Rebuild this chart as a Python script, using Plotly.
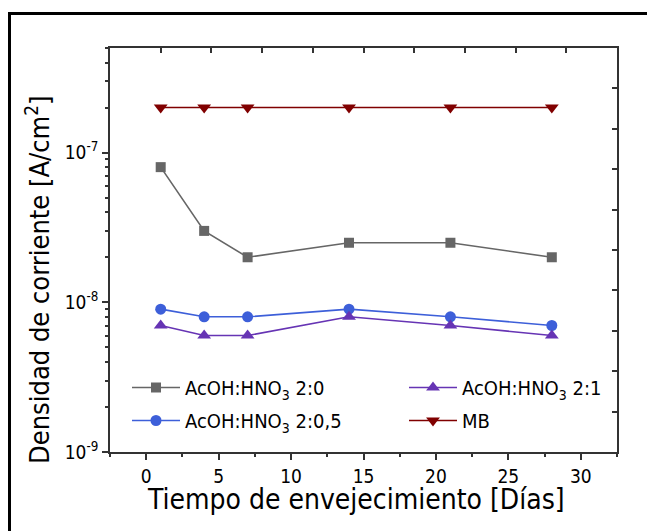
import plotly.graph_objects as go

# Aging time (days) and corrosion current density (A/cm^2)
dias = [1, 4, 7, 14, 21, 28]
acoh_2_0 = [8e-8, 3e-8, 2e-8, 2.5e-8, 2.5e-8, 2e-8]
acoh_2_05 = [9e-9, 8e-9, 8e-9, 9e-9, 8e-9, 7e-9]
acoh_2_1 = [7e-9, 6e-9, 6e-9, 8e-9, 7e-9, 6e-9]
mb = [2e-7, 2e-7, 2e-7, 2e-7, 2e-7, 2e-7]

names = ["AcOH:HNO<sub>3</sub> 2:0", "AcOH:HNO<sub>3</sub> 2:0,5",
         "AcOH:HNO<sub>3</sub> 2:1", "MB"]
y_tickvals = [1e-9, 1e-8, 1e-7]
y_ticktext = ["10<sup>-9</sup>", "10<sup>-8</sup>", "10<sup>-7</sup>"]

FONT = "DejaVu Sans Condensed, DejaVu Sans, sans-serif"
AX = "#333333"

W, H = 647, 531
ML, MR, MT, MB_ = 110, 30, 48, 79
PW, PH = W - ML - MR, H - MT - MB_


def px_x(p):
    return (p - ML) / PW


def px_y(p):
    return (H - MB_ - p) / PH


fig = go.Figure()

series = [
    (acoh_2_0, names[0], "#666666", "square", 10, "legend", "g1"),
    (acoh_2_05, names[1], "#3D5FD9", "circle", 11, "legend", "g2"),
    (acoh_2_1, names[2], "#6634B4", "triangle-up", 12, "legend2", "g3"),
    (mb, names[3], "#800000", "triangle-down", 12, "legend2", "g4"),
]
for ys, name, col, sym, sz, leg, grp in series:
    fig.add_trace(go.Scatter(
        x=dias, y=ys, name=name, mode="lines+markers",
        line=dict(color=col, width=1.6),
        marker=dict(symbol=sym, size=sz, color=col),
        legend=leg, legendgroup=grp,
    ))

legend_common = dict(
    orientation="v", yanchor="top", xanchor="left",
    font=dict(size=20, family=FONT, color="black"),
    bgcolor="rgba(0,0,0,0)", itemwidth=48, tracegroupgap=4,
)

fig.update_layout(
    width=W, height=H,
    margin=dict(l=ML, r=MR, t=MT, b=MB_),
    paper_bgcolor="white", plot_bgcolor="white",
    font=dict(family=FONT, size=18, color="black"),
    showlegend=True,
    legend=dict(x=px_x(127), y=px_y(368), **legend_common),
    legend2=dict(x=px_x(404), y=px_y(368), **legend_common),
    xaxis=dict(
        range=[-2.5, 32.5], dtick=5, tick0=0,
        showline=True, linecolor=AX, linewidth=1.5,
        ticks="outside", ticklen=6, tickwidth=1.5, tickcolor=AX,
        minor=dict(ticks="outside", ticklen=3, tickwidth=1.5, tickcolor=AX,
                   dtick=2.5, tick0=0, showgrid=False),
        showgrid=False, zeroline=False,
        tickfont=dict(size=19, family=FONT),
    ),
    yaxis=dict(
        type="log", range=[-9, -6.301],
        tickmode="array", tickvals=y_tickvals, ticktext=y_ticktext,
        showline=True, linecolor=AX, linewidth=1.5,
        ticks="outside", ticklen=6, tickwidth=1.5, tickcolor=AX,
        minor=dict(ticks="outside", ticklen=3, tickwidth=1.5, tickcolor=AX,
                   dtick="D1", showgrid=False),
        showgrid=False, zeroline=False,
        tickfont=dict(size=19, family=FONT),
    ),
    # top and right frame axes with ten equal divisions
    xaxis2=dict(
        overlaying="x", side="top", range=[0, 10],
        tickvals=list(range(1, 10)), showticklabels=False,
        showline=True, linecolor=AX, linewidth=1.5,
        ticks="inside", ticklen=5, tickwidth=1.5, tickcolor=AX,
        showgrid=False, zeroline=False,
    ),
    yaxis2=dict(
        overlaying="y", side="right", range=[0, 10],
        tickvals=list(range(1, 10)), showticklabels=False,
        showline=True, linecolor=AX, linewidth=1.5,
        ticks="inside", ticklen=5, tickwidth=1.5, tickcolor=AX,
        showgrid=False, zeroline=False,
    ),
)

# invisible trace so the frame axes are laid out
fig.add_trace(go.Scatter(x=[None], y=[None], xaxis="x2", yaxis="y2",
                         showlegend=False, hoverinfo="skip"))

fig.add_annotation(
    text="Tiempo de envejecimiento [Días]", xref="paper", yref="paper",
    x=px_x(356), y=px_y(499), xanchor="center", yanchor="middle",
    showarrow=False, font=dict(size=28, family=FONT, color="black"),
)
fig.add_annotation(
    text="Densidad de corriente [A/cm<sup>2</sup>]", xref="paper", yref="paper",
    x=px_x(37), y=px_y(280), xanchor="center", yanchor="middle",
    showarrow=False, textangle=-90,
    font=dict(size=27, family=FONT, color="black"),
)

# outer black frame
fig.add_shape(type="rect", xref="paper", yref="paper",
              x0=px_x(9.5), y0=px_y(600), x1=px_x(720), y1=px_y(13.5),
              line=dict(color="black", width=3), fillcolor="rgba(0,0,0,0)")

fig.write_html("out.html")
